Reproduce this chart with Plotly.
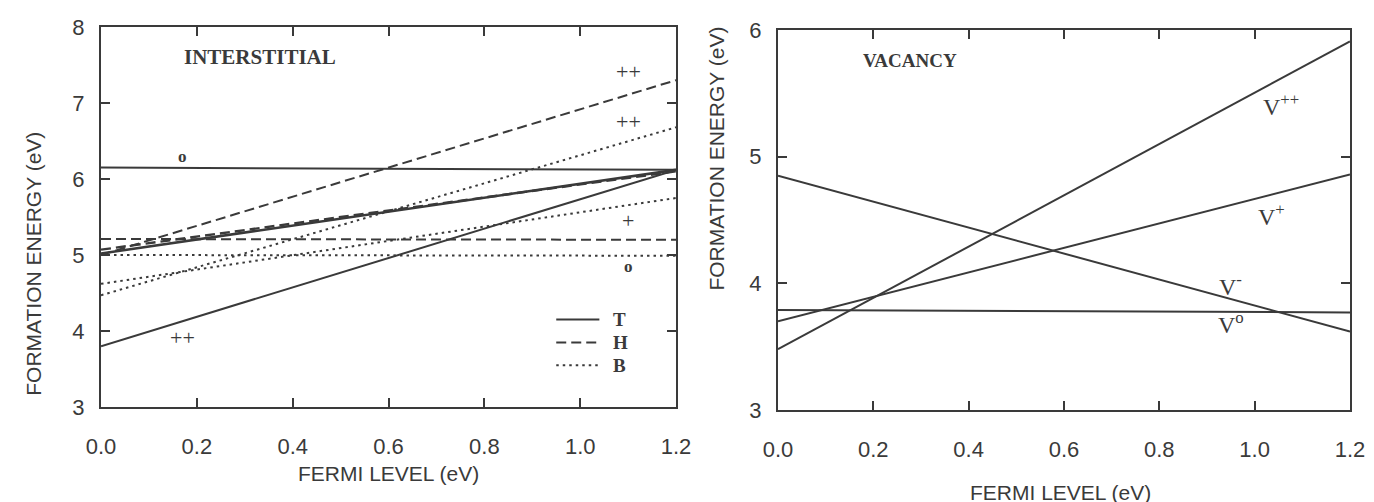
import plotly.graph_objects as go

# ---------------- data ----------------
fermi_level = [0.0, 1.2]

# Interstitial formation energies (eV) at E_F = 0.0 and 1.2
T_0 = [6.15, 6.12]
T_plus = [5.02, 6.12]
T_2plus = [3.80, 6.12]
H_0 = [5.21, 5.20]
H_plus = [5.07, 6.10]
H_2plus = [5.00, 7.30]
B_0 = [5.00, 4.99]
B_plus = [4.62, 5.75]
B_2plus = [4.47, 6.68]

# Vacancy formation energies (eV) at E_F = 0.0 and 1.2
V_0 = [3.79, 3.77]
V_minus = [4.85, 3.62]
V_plus = [3.70, 4.86]
V_2plus = [3.48, 5.91]

x_ticks = [0.0, 0.2, 0.4, 0.6, 0.8, 1.0, 1.2]
x_tick_text = ["0.0", "0.2", "0.4", "0.6", "0.8", "1.0", "1.2"]
y_ticks_left = [3, 4, 5, 6, 7, 8]
y_ticks_right = [3, 4, 5, 6]

# legend key (site labels) inside the interstitial panel
legend_x = [0.95, 1.04]
legend_sites = ["T", "H", "B"]
legend_y = [4.15, 3.85, 3.55]

# ---------------- style ----------------
INK = "#3a3a3a"
SANS = "Liberation Sans, Arial, sans-serif"
SERIF = "Liberation Serif, Times New Roman, serif"
DASH = "10px,5px"
DOT = "2.5px,4px"
styles = {"T": "solid", "H": DASH, "B": DOT}

fig = go.Figure()

def add_line(x, y, dash, xa="x", ya="y", width=2.0):
    fig.add_trace(go.Scatter(x=x, y=y, mode="lines", xaxis=xa, yaxis=ya,
                             line=dict(color=INK, width=width, dash=dash),
                             showlegend=False, hoverinfo="skip"))

# interstitial panel
add_line(fermi_level, T_0, "solid")
add_line(fermi_level, T_plus, "solid", width=2.6)
add_line(fermi_level, T_2plus, "solid")
add_line(fermi_level, H_0, DASH)
add_line(fermi_level, H_plus, DASH, width=2.4)
add_line(fermi_level, H_2plus, DASH)
add_line(fermi_level, B_0, DOT)
add_line(fermi_level, B_plus, DOT)
add_line(fermi_level, B_2plus, DOT)

for site, yv in zip(legend_sites, legend_y):
    add_line(legend_x, [yv, yv], styles[site])

# vacancy panel
for series in (V_0, V_minus, V_plus, V_2plus):
    add_line(fermi_level, series, "solid", xa="x2", ya="y2")

axis_common = dict(
    showline=True, linecolor=INK, linewidth=2, mirror="allticks",
    ticks="inside", ticklen=9, tickwidth=1.5, tickcolor=INK,
    showgrid=False, zeroline=False, automargin=False,
    tickfont=dict(family=SANS, size=22, color=INK),
)

fig.update_layout(
    template="none",
    width=1374, height=502,
    margin=dict(l=0, r=0, t=0, b=0, autoexpand=False),
    paper_bgcolor="white", plot_bgcolor="white",
    showlegend=False,
    xaxis=dict(domain=[0.0677, 0.4862], range=[0, 1.2], anchor="y",
               tickvals=x_ticks, ticktext=x_tick_text, ticklabelstandoff=19,
               **axis_common),
    yaxis=dict(domain=[0.2052, 0.9622], range=[3, 8], anchor="x",
               tickvals=y_ticks_left, ticklabelstandoff=10, **axis_common),
    xaxis2=dict(domain=[0.5604, 0.9767], range=[0, 1.2], anchor="y2",
                tickvals=x_ticks, ticktext=x_tick_text, ticklabelstandoff=19,
                **axis_common),
    yaxis2=dict(domain=[0.1992, 0.9562], range=[3, 6], anchor="x2",
                tickvals=y_ticks_right, ticklabelstandoff=10, **axis_common),
)

ann = []
def label(text, x, y, xa="x", ya="y", size=19, family=SERIF, xanchor="center", bold=False):
    t = f"<b>{text}</b>" if bold else text
    ann.append(dict(text=t, x=x, y=y, xref=xa, yref=ya, showarrow=False,
                    xanchor=xanchor, yanchor="middle",
                    font=dict(family=family, size=size, color=INK)))

# interstitial labels
label("INTERSTITIAL", 0.17, 7.6, size=21, xanchor="left", bold=True)
label("++", 1.10, 7.42, size=22)
label("++", 1.10, 6.76, size=22)
label("+", 1.10, 5.45, size=22)
label("o", 1.10, 4.85, size=17, bold=True)
label("o", 0.17, 6.30, size=17, bold=True)
label("++", 0.17, 3.92, size=22)
for site, yv in zip(legend_sites, legend_y):
    label(site, 1.065, yv, size=19, xanchor="left", bold=True)

# vacancy labels
label("VACANCY", 0.175, 5.76, xa="x2", ya="y2", size=19, xanchor="left", bold=True)
label("V<sup>++</sup>", 1.055, 5.41, xa="x2", ya="y2", size=24)
label("V<sup>+</sup>", 1.035, 4.54, xa="x2", ya="y2", size=24)
label("V<sup>-</sup>", 0.95, 3.99, xa="x2", ya="y2", size=24)
label("V<sup>o</sup>", 0.95, 3.69, xa="x2", ya="y2", size=24)

# axis titles
for x, y, text, angle in [
    (0.018, 0.49, "FORMATION ENERGY (eV)", -90),
    (0.516, 0.70, "FORMATION ENERGY (eV)", -90),
    (0.277, 0.072, "FERMI LEVEL (eV)", 0),
    (0.766, 0.034, "FERMI LEVEL (eV)", 0),
]:
    ann.append(dict(text=text, x=x, y=y, xref="paper", yref="paper",
                    showarrow=False, textangle=angle,
                    xanchor="center", yanchor="middle",
                    font=dict(family=SANS, size=21, color=INK)))

fig.update_layout(annotations=ann)
fig.write_html("out.html")
